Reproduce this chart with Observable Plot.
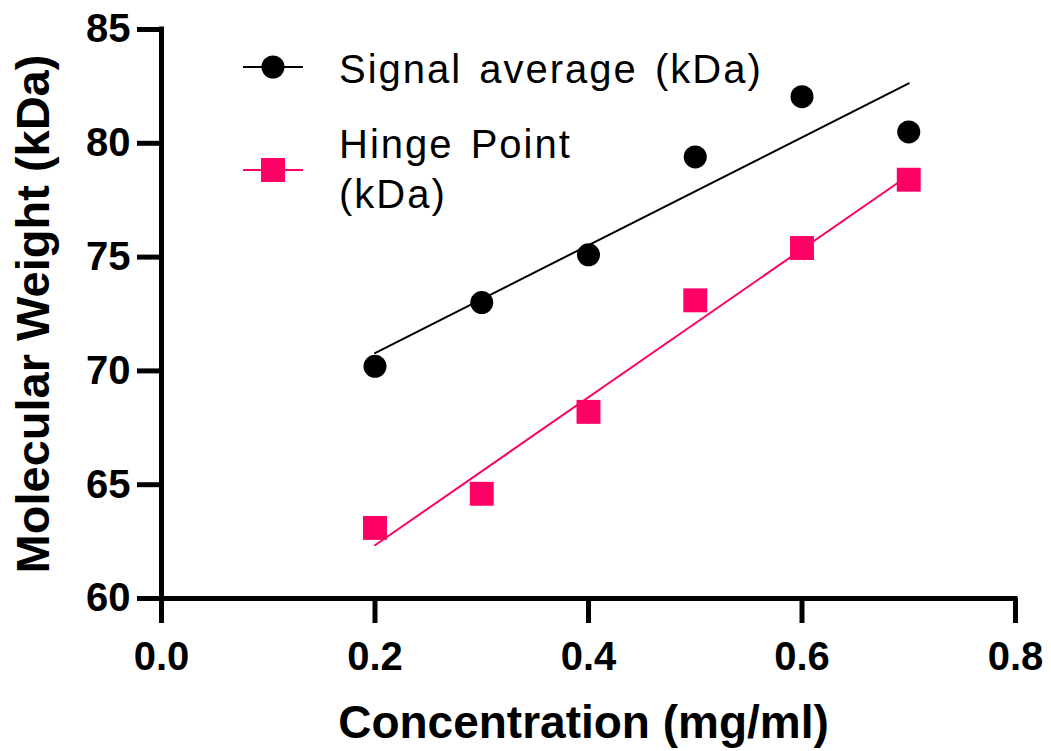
<!DOCTYPE html>
<html>
<head>
<meta charset="utf-8">
<script src="https://cdn.jsdelivr.net/npm/d3@7"></script>
<script src="https://cdn.jsdelivr.net/npm/@observablehq/plot@0.6"></script>
<style>
  html, body { margin: 0; padding: 0; background: #fff; }
  #chart { position: relative; width: 1051px; height: 751px; }
  #chart svg { display: block; }
  #legend { position: absolute; left: 0; top: 0; pointer-events: none; }
</style>
</head>
<body>
<div id="chart"></div>
<script>
// Molecular weight vs. concentration, two estimators with linear fits
const concentration = [0.2, 0.3, 0.4, 0.5, 0.6, 0.7];
const signalAverage = [70.2, 73.0, 75.1, 79.4, 82.05, 80.5];
const hingePoint = [63.1, 64.6, 68.2, 73.1, 75.4, 78.4];
const xTicks = [0, 0.2, 0.4, 0.6, 0.8];
const yTicks = [60, 65, 70, 75, 80, 85];
const seriesNames = ["Signal average (kDa)", "Hinge Point (kDa)"];

const pink = "#ff0066";
const font = "'Liberation Sans', Arial, sans-serif";

const signalRows = concentration.map((c, i) => ({c, mw: signalAverage[i]}));
const hingeRows = concentration.map((c, i) => ({c, mw: hingePoint[i]}));

const axisStyle = {stroke: "black", strokeWidth: 5, fontSize: 40, fontWeight: "bold", fill: "black"};

const plot = Plot.plot({
  width: 1051,
  height: 751,
  marginLeft: 161,
  marginRight: 36,
  marginTop: 29,
  marginBottom: 153,
  style: {fontFamily: font, background: "white", overflow: "visible"},
  x: {domain: [0, 0.8]},
  y: {domain: [60, 85]},
  marks: [
    // axis lines
    Plot.ruleY([60], {x1: 0, x2: 0.8, stroke: "black", strokeWidth: 5, strokeLinecap: "square"}),
    Plot.ruleX([0], {y1: 60, y2: 85, stroke: "black", strokeWidth: 5, strokeLinecap: "square"}),
    Plot.axisX({ticks: xTicks, tickFormat: d3.format(".1f"), tickSize: 25, tickPadding: 18, label: null, ...axisStyle}),
    Plot.axisY({ticks: yTicks, tickSize: 24, tickPadding: 7, label: null, ...axisStyle}),
    // axis titles
    Plot.text(["Concentration (mg/ml)"], {frameAnchor: "bottom", dx: -5, dy: 125, lineAnchor: "middle",
      textAnchor: "middle", fontSize: 46, fontWeight: "bold", fill: "black"}),
    Plot.text(["Molecular Weight (kDa)"], {frameAnchor: "left", dx: -128, dy: 0, rotate: -90, lineAnchor: "middle",
      textAnchor: "middle", fontSize: 47, fontWeight: "bold", fill: "black"}),
    // linear fits
    Plot.linearRegressionY(signalRows, {x: "c", y: "mw", stroke: "black", strokeWidth: 2, ci: 0}),
    Plot.linearRegressionY(hingeRows, {x: "c", y: "mw", stroke: pink, strokeWidth: 2, ci: 0}),
    // observations
    Plot.dot(signalRows, {x: "c", y: "mw", symbol: "circle", r: 11.5, fill: "black"}),
    Plot.dot(hingeRows, {x: "c", y: "mw", symbol: "square", r: 13.5, fill: pink})
  ]
});

const chart = document.getElementById("chart");
chart.appendChild(plot);

// legend overlay
const legend = d3.select(chart).append("svg")
  .attr("id", "legend")
  .attr("width", 1051)
  .attr("height", 751)
  .style("font-family", font);

const items = [
  {lines: [seriesNames[0]], color: "black", symbol: "circle", y: 67, baseline: 83},
  {lines: ["Hinge Point", "(kDa)"], color: pink, symbol: "square", y: 170, baseline: 158}
];

items.forEach(item => {
  const g = legend.append("g");
  g.append("line").attr("x1", 243).attr("x2", 303).attr("y1", item.y).attr("y2", item.y)
    .attr("stroke", item.color).attr("stroke-width", 2);
  if (item.symbol === "circle") {
    g.append("circle").attr("cx", 273).attr("cy", item.y).attr("r", 11.5).attr("fill", item.color);
  } else {
    g.append("rect").attr("x", 261).attr("y", item.y - 12).attr("width", 24).attr("height", 24).attr("fill", item.color);
  }
  const t = g.append("text").attr("x", 339).attr("y", item.baseline)
    .attr("font-size", 40).attr("letter-spacing", "2px").attr("word-spacing", "4px").attr("fill", "black");
  item.lines.forEach((line, i) => {
    t.append("tspan").attr("x", 339).attr("dy", i === 0 ? 0 : 50).text(line);
  });
});
</script>
</body>
</html>
